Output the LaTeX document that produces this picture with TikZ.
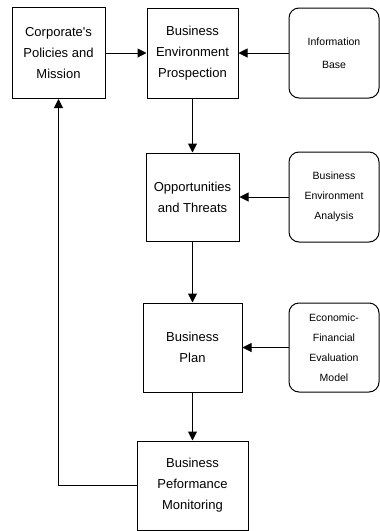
\documentclass[tikz,border=0pt]{standalone}
\usepackage{fontspec}
\setmainfont{Liberation Sans}[Ligatures=TeXOff]
\usetikzlibrary{arrows.meta}
\begin{document}
\begin{tikzpicture}[x=1pt,y=-1pt,
  mainbox/.style={draw=black,line width=1pt,rectangle,align=center,inner sep=0pt,
    font=\fontsize{13}{21}\selectfont},
  sidebox/.style={draw=black,line width=1pt,rectangle,rounded corners=10pt,align=center,inner sep=0pt,
    minimum width=90pt,minimum height=90pt,font=\fontsize{10.5}{20}\selectfont},
  arr/.style={line width=1pt,-{Triangle[length=9pt,width=9pt]}}]
\useasboundingbox (0,0) rectangle (380,531);
\node[mainbox,minimum width=93pt,minimum height=91pt] (cp) at (58.5,53) {Corporate's\\Policies and\\Mission};
\node[mainbox,minimum width=91pt,minimum height=90pt] (bep) at (192.5,53) {Business\\Environment\\Prospection};
\node[sidebox,font=\fontsize{10.5}{23}\selectfont] (ib) at (334,53) {Information\\Base};
\node[mainbox,minimum width=93pt,minimum height=88pt] (ot) at (192.5,197) {Opportunities\\and Threats};
\node[sidebox] (bea) at (334,197) {Business\\Environment\\Analysis};
\node[mainbox,minimum width=99pt,minimum height=89pt] (bp) at (192.5,347.5) {Business\\Plan};
\node[sidebox,minimum height=89pt] (efem) at (334,347.5) {Economic-\\Financial\\Evaluation\\Model};
\node[mainbox,minimum width=111pt,minimum height=89pt] (bpm) at (192.5,485.5) {Business\\Peformance\\Monitoring};
\draw[arr] (cp.east) -- (bep.west);
\draw[arr] (ib.west) -- (bep.east);
\draw[arr] (bep.south) -- (ot.north);
\draw[arr] (bea.west) -- (ot.east);
\draw[arr] (ot.south) -- (bp.north);
\draw[arr] (efem.west) -- (bp.east);
\draw[arr] (bp.south) -- (bpm.north);
\draw[arr] (bpm.west) -| (cp.south);
\end{tikzpicture}
\end{document}
